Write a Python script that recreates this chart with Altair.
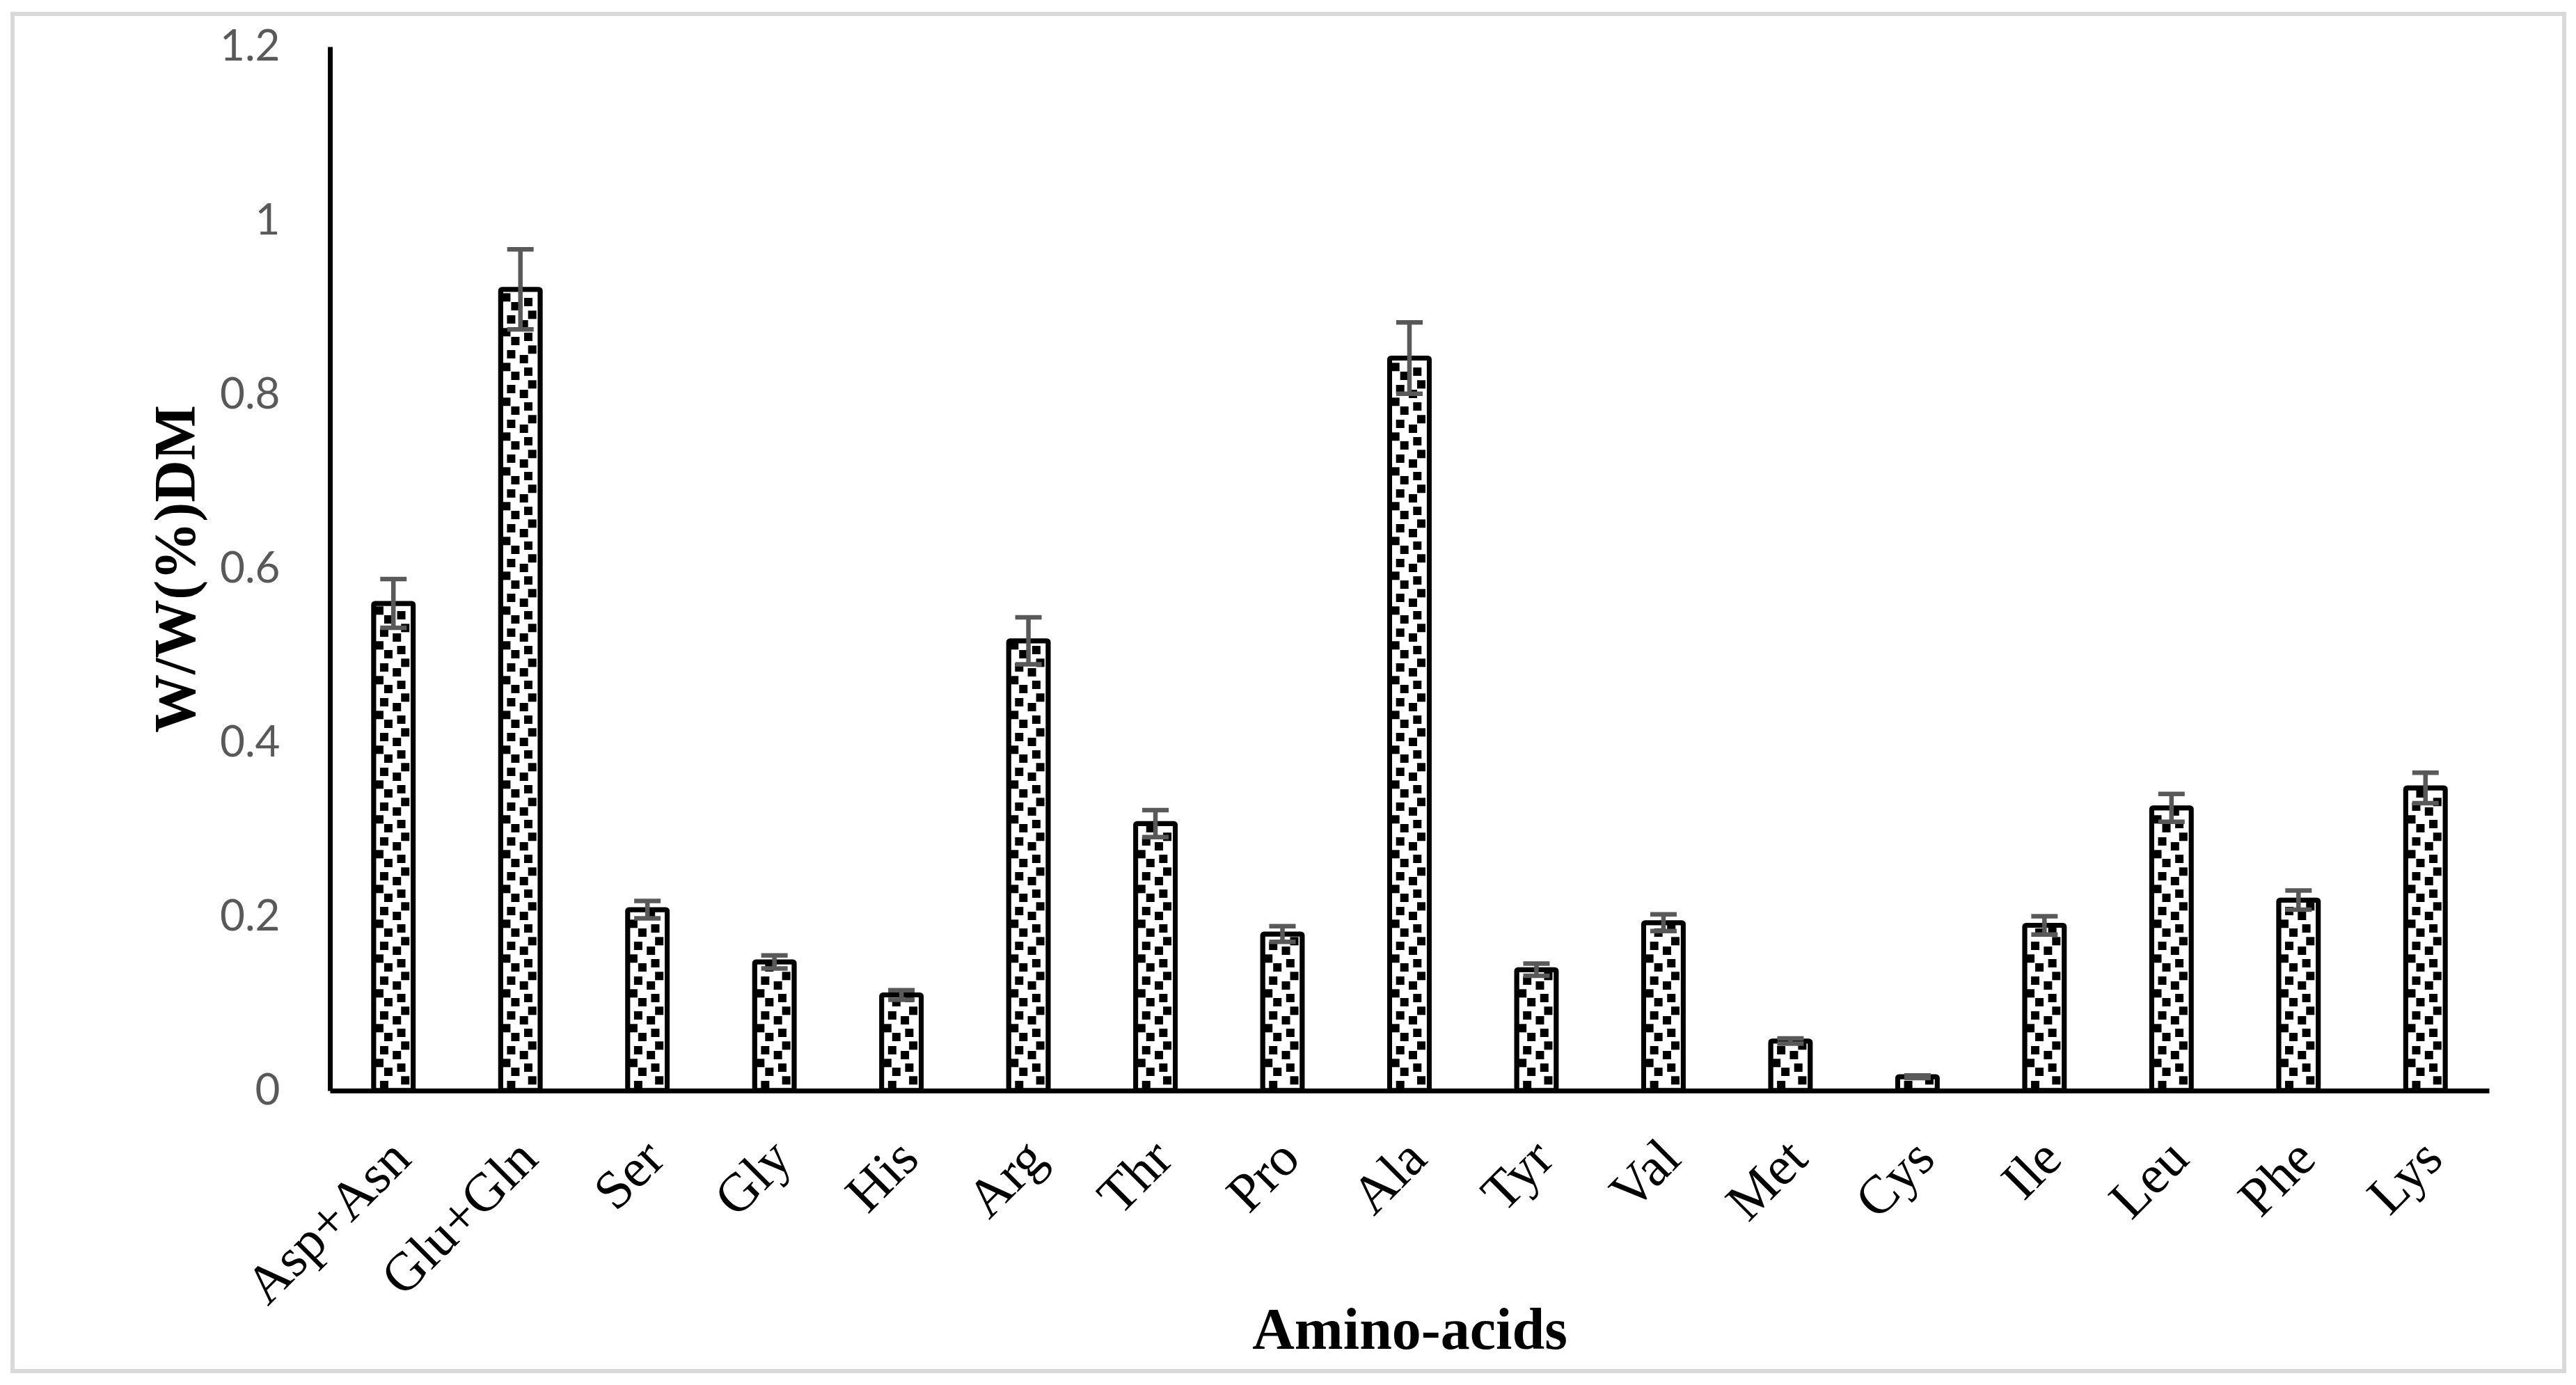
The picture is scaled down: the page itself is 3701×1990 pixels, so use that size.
import altair as alt
import pandas as pd

# ---- data ----
categories = ["Asp+Asn", "Glu+Gln", "Ser", "Gly", "His", "Arg", "Thr", "Pro", "Ala",
              "Tyr", "Val", "Met", "Cys", "Ile", "Leu", "Phe", "Lys"]
values = [0.560, 0.921, 0.208, 0.148, 0.110, 0.517, 0.307, 0.180, 0.842,
          0.139, 0.193, 0.057, 0.016, 0.190, 0.325, 0.219, 0.348]
errors = [0.028, 0.046, 0.010, 0.0075, 0.0055, 0.027, 0.0155, 0.009, 0.041,
          0.007, 0.0096, 0.003, 0.0015, 0.0105, 0.016, 0.011, 0.0175]
y_ticks = [0, 0.2, 0.4, 0.6, 0.8, 1.0, 1.2]

# ---- layout / style ----
W, H = 3102, 1500
YMAX = 1.2
BAR_W = 57
SERIF = "Liberation Serif"

df = pd.DataFrame({"aa": categories, "v": values, "e": errors})
df["lo"] = df["v"] - df["e"]
df["hi"] = df["v"] + df["e"]

# confetti-like fill pattern (decoration): square offsets in pixels inside one bar
pat_dx = [15.2, 45.5, 21.2, 39.8, 8.2, 33.5]   # from bar left edge
pat_dy = [0, 6.7, 19, 25, 31.7, 43]            # within one 50 px period
PERIOD = 50
dots = []
for cat, v in zip(categories, values):
    top_px = v / YMAX * H
    k = 0
    while k * PERIOD < top_px + PERIOD:
        for i, dy in enumerate(pat_dy):
            cy = 8 + k * PERIOD + dy
            if cy - 6 >= -3 and cy + 6 <= top_px + 3:
                dots.append({"aa": cat, "p": i, "yy": cy / H * YMAX})
        k += 1
dots_df = pd.DataFrame(dots)

x_scale = alt.Scale(domain=categories, paddingInner=0.688, paddingOuter=0.344)
y_scale = alt.Scale(domain=[0, YMAX], nice=False, zero=True)

x_axis = alt.Axis(
    title="Amino-acids", labelAngle=-45, labelAlign="right", labelBaseline="middle",
    labelFont=SERIF, labelFontSize=78, labelColor="black", labelPadding=85, labelOffset=12,
    labelLimit=0, labelOverlap=False,
    ticks=False, domainColor="black", domainWidth=7, grid=False,
    titleFont=SERIF, titleFontWeight="bold", titleFontSize=84, titleColor="black",
    titleX=W / 2, titleY=370, titleAlign="center", titleBaseline="alphabetic",
)
y_axis = alt.Axis(
    title="W/W(%)DM", values=y_ticks, format="~g",
    labelFont="Lato", labelFontSize=62, labelColor="#595959", labelPadding=72,
    ticks=False, domainColor="black", domainWidth=7, grid=False,
    titleFont=SERIF, titleFontWeight="bold", titleFontSize=84, titleColor="black",
    titleX=-195, titleY=H / 2, titleAngle=270, titleAlign="center", titleBaseline="alphabetic",
)

base = alt.Chart(df)
X = alt.X("aa:N", scale=x_scale, sort=categories)

bars = base.mark_bar(fill="white", stroke="black", strokeWidth=7, cornerRadius=2).encode(
    x=alt.X("aa:N", scale=x_scale, axis=x_axis, sort=categories),
    y=alt.Y("v:Q", scale=y_scale, axis=y_axis),
)

pattern_layers = []
for i, dx in enumerate(pat_dx):
    pattern_layers.append(
        alt.Chart(dots_df).transform_filter(alt.datum.p == i)
        .mark_square(size=144, color="black", opacity=1, filled=True, xOffset=dx - BAR_W / 2)
        .encode(x=X, y=alt.Y("yy:Q", scale=y_scale))
    )

err_rule = base.mark_rule(color="#595959", strokeWidth=6.5).encode(
    x=X, y=alt.Y("lo:Q", scale=y_scale), y2="hi:Q",
)
cap_lo = base.mark_tick(color="#595959", thickness=6.5, size=38, opacity=1).encode(
    x=X, y=alt.Y("lo:Q", scale=y_scale),
)
cap_hi = base.mark_tick(color="#595959", thickness=6.5, size=38, opacity=1).encode(
    x=X, y=alt.Y("hi:Q", scale=y_scale),
)

frame = alt.Chart(pd.DataFrame({"k": [0]})).mark_rect(
    fillOpacity=0, stroke="#d9d9d9", strokeWidth=6
).encode(
    x=alt.value(-456), x2=alt.value(3210), y=alt.value(-47), y2=alt.value(1903)
)

chart = alt.layer(frame, bars, *pattern_layers, err_rule, cap_lo, cap_hi).properties(
    width=W, height=H,
    autosize=alt.AutoSizeParams(type="none"),
    padding={"left": 466, "top": 59, "right": 112, "bottom": 408},
    background="white",
).configure_view(strokeWidth=0)

chart.save("out.html", embed_options={"renderer": "svg", "actions": False})
